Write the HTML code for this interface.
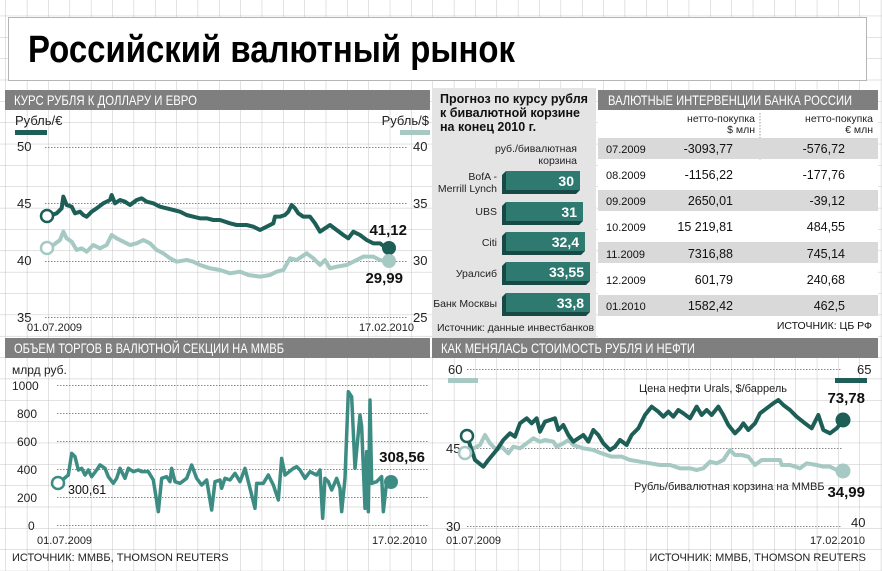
<!DOCTYPE html>
<html><head><meta charset="utf-8"><style>
html,body{margin:0;padding:0;background:#fff;}
svg{display:block;font-family:"Liberation Sans Narrow","Liberation Sans",sans-serif;}
</style></head><body>
<svg width="882" height="571" viewBox="0 0 882 571" xmlns="http://www.w3.org/2000/svg">
<defs>
<pattern id="grid" x="5.5" y="15.7" width="21.35" height="21.35" patternUnits="userSpaceOnUse">
<path d="M0 0V21.35M0 0H21.35" stroke="#c4c4c4" stroke-width="1" fill="none"/>
</pattern>
</defs>
<rect width="882" height="571" fill="url(#grid)"/>
<!-- title -->
<rect x="8.5" y="17.5" width="858" height="63" fill="#fff" stroke="#b5b5b5"/>
<text x="28" y="62" font-size="38" font-weight="bold" fill="#000" textLength="487" lengthAdjust="spacingAndGlyphs">Российский валютный рынок</text>

<!-- headers -->
<rect x="5" y="90" width="425" height="20" fill="#7f7f7f"/>
<text x="14" y="105" font-size="14" fill="#fff" textLength="183" lengthAdjust="spacingAndGlyphs">КУРС РУБЛЯ К ДОЛЛАРУ И ЕВРО</text>
<rect x="432" y="88" width="164" height="250" fill="#e4e4e4"/>
<rect x="598" y="90" width="280" height="20" fill="#7f7f7f"/>
<text x="608" y="105" font-size="14" fill="#fff" textLength="244" lengthAdjust="spacingAndGlyphs">ВАЛЮТНЫЕ ИНТЕРВЕНЦИИ БАНКА РОССИИ</text>
<rect x="598" y="110" width="280" height="228" fill="#fff"/>
<rect x="5" y="338" width="425" height="20" fill="#7f7f7f"/>
<text x="14" y="353" font-size="14" fill="#fff" textLength="270" lengthAdjust="spacingAndGlyphs">ОБЪЕМ ТОРГОВ В ВАЛЮТНОЙ СЕКЦИИ НА ММВБ</text>
<rect x="432" y="338" width="446" height="20" fill="#7f7f7f"/>
<text x="441" y="353" font-size="14" fill="#fff" textLength="254" lengthAdjust="spacingAndGlyphs">КАК МЕНЯЛАСЬ СТОИМОСТЬ РУБЛЯ И НЕФТИ</text>

<!-- Panel 1 -->
<g font-size="13" fill="#222">
<text x="15" y="125">Рубль/€</text>
<text x="429" y="125" text-anchor="end">Рубль/$</text>
<text x="17" y="151">50</text><text x="17" y="208">45</text><text x="17" y="265">40</text><text x="17" y="322">35</text>
<text x="413" y="151">40</text><text x="413" y="208">35</text><text x="413" y="265">30</text><text x="413" y="322">25</text>
<text x="27" y="331" font-size="11">01.07.2009</text>
<text x="414" y="331" font-size="11" text-anchor="end">17.02.2010</text>
</g>
<rect x="15" y="130" width="32" height="5" fill="#1d5e57"/>
<rect x="400" y="130" width="30" height="5" fill="#a6c9c4"/>
<g stroke="#888" stroke-width="1" stroke-dasharray="1.5 1.5">
<line x1="45" y1="147.5" x2="408" y2="147.5"/><line x1="45" y1="203.5" x2="408" y2="203.5"/>
<line x1="45" y1="261.5" x2="408" y2="261.5"/><line x1="45" y1="317.5" x2="408" y2="317.5"/>
</g>
<g transform="translate(0,80) scale(0.33333)" fill="none" stroke-linejoin="round">
<polyline vector-effect="non-scaling-stroke" stroke="#a6c9c4" stroke-width="4" points="140,505 160,495 180,480 190,455 200,475 215,485 230,510 245,505 260,515 280,495 300,505 320,495 335,465 350,475 370,485 390,495 410,490 430,480 450,490 470,510 490,520 510,535 530,545 560,540 580,545 600,555 630,565 660,570 690,580 720,575 745,585 780,590 810,585 830,575 850,570 870,535 890,540 905,530 920,520 940,535 960,555 975,540 990,565 1010,560 1040,555 1060,545 1090,530 1120,530 1140,540 1160,545"/>
<polyline vector-effect="non-scaling-stroke" stroke="#1d5e57" stroke-width="4" points="140,410 170,400 185,385 190,350 200,375 215,380 225,400 240,395 250,405 260,410 275,395 290,385 310,370 330,360 335,345 345,370 360,360 375,365 390,375 410,360 425,355 440,365 460,370 480,380 500,385 520,390 540,395 560,405 580,410 600,415 620,415 640,420 660,420 690,430 710,435 740,435 760,440 780,450 800,440 820,430 825,410 840,410 855,405 865,395 875,375 885,385 895,400 910,410 930,410 945,430 960,455 975,445 990,435 1010,450 1030,465 1045,475 1060,455 1080,465 1100,480 1120,490 1140,490 1160,505"/>
</g>
<circle cx="47" cy="216" r="6" fill="#fff" stroke="#1d5e57" stroke-width="2.5"/>
<circle cx="47" cy="248" r="6" fill="#fff" stroke="#a6c9c4" stroke-width="2.5"/>
<circle cx="389" cy="248" r="7" fill="#1d5e57"/>
<circle cx="389" cy="261" r="7" fill="#a6c9c4"/>
<text x="407" y="235" font-size="15" font-weight="bold" text-anchor="end" fill="#111">41,12</text>
<text x="403" y="283" font-size="15" font-weight="bold" text-anchor="end" fill="#111">29,99</text>

<!-- Forecast -->
<g font-size="12.5" font-weight="bold" fill="#111">
<text x="440" y="103">Прогноз по курсу рубля</text>
<text x="440" y="117">к бивалютной корзине</text>
<text x="440" y="131">на конец 2010 г.</text>
</g>
<g font-size="10.5" fill="#222" text-anchor="end">
<text x="577" y="152">руб./бивалютная</text>
<text x="577" y="164">корзина</text>
<text x="497" y="180">BofA -</text><text x="497" y="192">Merrill Lynch</text>
<text x="497" y="215">UBS</text>
<text x="497" y="246">Citi</text>
<text x="497" y="277">Уралсиб</text>
<text x="497" y="307">Банк Москвы</text>
</g>
<g>
<polygon points="502,175 506,171 580,171 580,190 576,194 502,194" fill="#174a44"/>
<rect x="506" y="171" width="74" height="19" fill="#2f7a70"/>
<polygon points="502,206 506,202 583,202 583,221 579,225 502,225" fill="#174a44"/>
<rect x="506" y="202" width="77" height="19" fill="#2f7a70"/>
<polygon points="502,236 506,232 585,232 585,251 581,255 502,255" fill="#174a44"/>
<rect x="506" y="232" width="79" height="19" fill="#2f7a70"/>
<polygon points="502,266 506,262 590,262 590,281 586,285 502,285" fill="#174a44"/>
<rect x="506" y="262" width="84" height="19" fill="#2f7a70"/>
<polygon points="502,297 506,293 590,293 590,312 586,316 502,316" fill="#174a44"/>
<rect x="506" y="293" width="84" height="19" fill="#2f7a70"/>
</g>
<g font-size="14" font-weight="bold" fill="#fff" text-anchor="end">
<text x="574" y="186">30</text><text x="577" y="217">31</text><text x="579" y="247">32,4</text>
<text x="584" y="277">33,55</text><text x="584" y="308">33,8</text>
</g>
<text x="437" y="331" font-size="10.5" fill="#222">Источник: данные инвестбанков</text>

<!-- Table -->
<g font-size="10.5" fill="#222" text-anchor="end">
<text x="755" y="122">нетто-покупка</text><text x="755" y="133">$ млн</text>
<text x="873" y="122">нетто-покупка</text><text x="873" y="133">€ млн</text>
</g>
<line x1="760" y1="113" x2="760" y2="160" stroke="#999" stroke-dasharray="1.5 1.5"/>
<g fill="#d9d9d9">
<rect x="598" y="138" width="280" height="21"/><rect x="598" y="190" width="280" height="21"/>
<rect x="598" y="242" width="280" height="21"/><rect x="598" y="295" width="280" height="21"/>
</g>
<g font-size="12.5" fill="#111">
<text x="606" y="153" font-size="11">07.2009</text><text x="733" y="153" text-anchor="end">-3093,77</text><text x="845" y="153" text-anchor="end">-576,72</text>
<text x="606" y="179" font-size="11">08.2009</text><text x="733" y="179" text-anchor="end">-1156,22</text><text x="845" y="179" text-anchor="end">-177,76</text>
<text x="606" y="205" font-size="11">09.2009</text><text x="733" y="205" text-anchor="end">2650,01</text><text x="845" y="205" text-anchor="end">-39,12</text>
<text x="606" y="231" font-size="11">10.2009</text><text x="733" y="231" text-anchor="end">15 219,81</text><text x="845" y="231" text-anchor="end">484,55</text>
<text x="606" y="258" font-size="11">11.2009</text><text x="733" y="258" text-anchor="end">7316,88</text><text x="845" y="258" text-anchor="end">745,14</text>
<text x="606" y="284" font-size="11">12.2009</text><text x="733" y="284" text-anchor="end">601,79</text><text x="845" y="284" text-anchor="end">240,68</text>
<text x="606" y="310" font-size="11">01.2010</text><text x="733" y="310" text-anchor="end">1582,42</text><text x="845" y="310" text-anchor="end">462,5</text>
</g>
<text x="872" y="329" font-size="10.5" fill="#111" text-anchor="end">ИСТОЧНИК: ЦБ РФ</text>

<!-- Panel 2 -->
<g font-size="12" fill="#222">
<text x="12" y="374">млрд руб.</text>
<text x="12" y="390">1000</text><text x="17" y="418">800</text><text x="17" y="446">600</text>
<text x="17" y="474">400</text><text x="17" y="502">200</text><text x="28" y="530">0</text>
<text x="37" y="544" font-size="11">01.07.2009</text>
<text x="427" y="544" font-size="11" text-anchor="end">17.02.2010</text>
<text x="12" y="561" font-size="11">ИСТОЧНИК: ММВБ, THOMSON REUTERS</text>
</g>
<g stroke="#888" stroke-width="1" stroke-dasharray="1.5 1.5">
<line x1="57" y1="385.5" x2="428" y2="385.5"/><line x1="57" y1="413.5" x2="428" y2="413.5"/>
<line x1="57" y1="441.5" x2="428" y2="441.5"/><line x1="57" y1="469.5" x2="428" y2="469.5"/>
<line x1="57" y1="497.5" x2="428" y2="497.5"/><line x1="57" y1="525.5" x2="428" y2="525.5"/>
</g>
<g transform="translate(0,335) scale(0.33333)" fill="none" stroke-linejoin="round">
<polyline vector-effect="non-scaling-stroke" stroke="#3d8c83" stroke-width="3.5" points="175,445 205,420 215,355 225,365 235,405 245,400 255,420 265,405 275,425 290,405 300,390 315,400 325,425 340,445 350,430 360,400 375,430 385,400 400,410 415,405 425,410 445,410 460,435 475,530 485,430 500,425 510,440 515,400 525,440 540,445 560,430 575,390 590,430 605,450 620,435 635,525 645,440 660,435 665,460 675,430 690,435 705,415 720,440 735,400 745,440 765,520 770,445 790,445 805,420 820,450 835,495 845,370 855,420 880,400 890,395 900,405 915,430 930,410 950,420 960,405 968,550 975,430 985,440 995,465 1010,430 1020,460 1025,530 1035,430 1045,170 1055,185 1065,400 1080,240 1085,275 1095,520 1100,350 1105,530 1110,195 1115,445 1130,440 1145,425 1150,530 1160,440 1175,440"/>
</g>
<circle cx="58" cy="483" r="6" fill="#fff" stroke="#3d8c83" stroke-width="2.5"/>
<circle cx="391" cy="482" r="7" fill="#3d8c83"/>
<text x="68" y="494" font-size="12.5" fill="#111">300,61</text>
<text x="425" y="462" font-size="15" font-weight="bold" text-anchor="end" fill="#111">308,56</text>

<!-- Panel 4 -->
<g stroke="#888" stroke-width="1" stroke-dasharray="1.5 1.5">
<line x1="467" y1="369.5" x2="842" y2="369.5"/><line x1="462" y1="448.5" x2="842" y2="448.5"/>
<line x1="467" y1="526.5" x2="842" y2="526.5"/>
</g>
<rect x="448" y="378" width="30" height="5" fill="#a6c9c4"/>
<rect x="835" y="378" width="32" height="5" fill="#1d5e57"/>
<g font-size="13" fill="#222">
<text x="448" y="374">60</text><text x="857" y="374">65</text>
<text x="446" y="453">45</text>
<text x="446" y="531">30</text><text x="851" y="527">40</text>
<text x="446" y="544" font-size="11">01.07.2009</text>
<text x="865" y="544" font-size="11" text-anchor="end">17.02.2010</text>
<text x="866" y="561" font-size="11" text-anchor="end">ИСТОЧНИК: ММВБ, THOMSON REUTERS</text>
<text x="713" y="392" font-size="11" text-anchor="middle">Цена нефти Urals, $/баррель</text>
<text x="634" y="490" font-size="11">Рубль/бивалютная корзина на ММВБ</text>
</g>
<g transform="translate(430,335) scale(0.33333)" fill="none" stroke-linejoin="round">
<polyline vector-effect="non-scaling-stroke" stroke="#a6c9c4" stroke-width="4" points="105,355 130,340 150,330 165,300 180,325 200,345 215,335 235,355 250,335 270,340 290,325 310,310 330,320 345,315 370,320 380,335 400,325 415,315 430,330 460,340 490,345 515,355 545,365 575,365 600,375 630,380 660,385 690,390 720,390 750,400 780,400 800,405 820,400 840,380 860,385 880,375 900,345 915,360 935,360 955,365 975,390 995,375 1050,375 1055,390 1080,390 1110,400 1130,385 1160,390 1180,395 1200,395 1220,405 1240,410"/>
<polyline vector-effect="non-scaling-stroke" stroke="#1d5e57" stroke-width="4" points="110,300 135,375 160,395 175,375 200,345 220,315 240,295 255,305 270,265 290,250 305,265 320,250 330,290 345,260 360,255 375,250 385,285 400,270 415,300 430,320 445,310 460,300 475,320 490,285 505,300 520,325 540,345 555,335 570,315 590,330 605,300 625,280 645,240 665,215 685,230 700,245 715,230 730,245 745,225 760,235 780,250 800,215 815,240 830,225 845,240 865,215 880,240 895,270 915,295 930,280 940,265 955,285 975,265 990,235 1010,220 1030,205 1045,195 1060,210 1080,225 1100,245 1125,265 1145,280 1165,240 1180,285 1200,295 1220,280 1240,255"/>
</g>
<circle cx="467" cy="436" r="6" fill="#fff" stroke="#1d5e57" stroke-width="2.5"/>
<circle cx="465" cy="453" r="6" fill="#fff" stroke="#a6c9c4" stroke-width="2.5"/>
<circle cx="843" cy="420" r="7.5" fill="#1d5e57"/>
<circle cx="843" cy="471" r="7.5" fill="#a6c9c4"/>
<text x="865" y="403" font-size="15" font-weight="bold" text-anchor="end" fill="#111">73,78</text>
<text x="865" y="497" font-size="15" font-weight="bold" text-anchor="end" fill="#111">34,99</text>
</svg>
</body></html>
